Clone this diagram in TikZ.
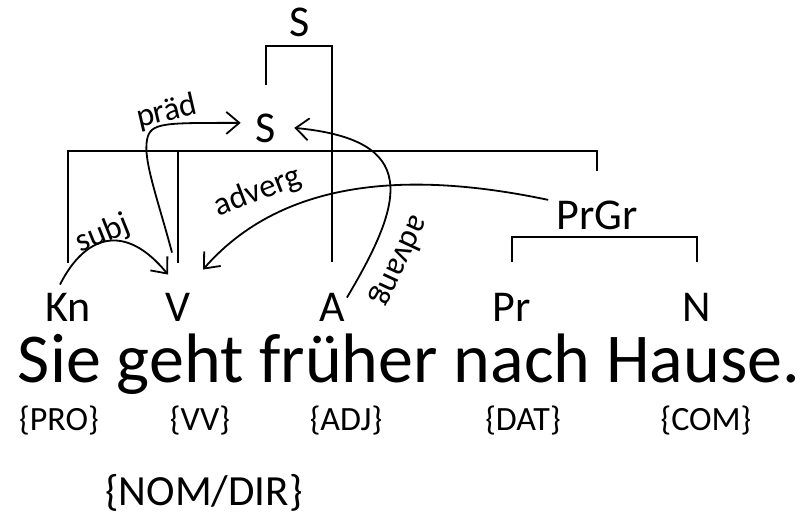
\documentclass[tikz,border=0pt]{standalone}
\usepackage{fontspec}
\setmainfont{Carlito}
\usetikzlibrary{arrows.meta,calc}
\begin{document}
\begin{tikzpicture}[x=1pt,y=-1pt,
  lab/.style={font=\fontsize{44}{50}\selectfont, inner sep=0pt, anchor=base},
  sent/.style={font=\fontsize{70}{76}\selectfont, inner sep=0pt, anchor=base},
  tag/.style={font=\fontsize{34}{38}\selectfont, inner sep=0pt, anchor=base},
  bigtag/.style={font=\fontsize{43}{50}\selectfont, inner sep=0pt, anchor=base},
  rel/.style={font=\fontsize{33}{36}\selectfont, inner sep=0pt},
  arc/.style={-{Straight Barb[length=13pt,width=22pt]}, line width=1.8pt},
  tree/.style={line width=2pt}]
\useasboundingbox (0,0) rectangle (803,518);
% category nodes
\node[lab] (Stop) at (300,37) {S};
\node[lab] (Smid) at (266,143) {S};
\node[lab] (PrGr) at (597,230) {PrGr};
\node[lab] (Kn) at (68,322) {Kn};
\node[lab] (V) at (178,322) {V};
\node[lab] (A) at (332,322) {A};
\node[lab] (Pr) at (512,322) {Pr};
\node[lab] (N) at (697,322) {N};
% sentence and tags
\node[sent] (sent) at (409,382) {Sie geht früher nach Hause.};
\node[tag] (tPRO) at (59,430) {\{PRO\}};
\node[tag] (tVV) at (200,430) {\{VV\}};
\node[tag] (tADJ) at (346,430) {\{ADJ\}};
\node[tag] (tDAT) at (523,430) {\{DAT\}};
\node[tag] (tCOM) at (706,430) {\{COM\}};
\node[bigtag] (tNOM) at (204,505) {\{NOM/DIR\}};
% tree brackets
\coordinate (bar) at ([yshift=-8pt]Smid.south);
\draw[tree] ([yshift=29pt]Smid.north) |- ([yshift=-9pt]Stop.south) -| ([yshift=32pt]A.north);
\draw[tree] ([yshift=31pt]Kn.north) |- (bar) -| ([yshift=30pt]PrGr.north);
\draw[tree] ([yshift=31pt]V.north) -- (V.north |- bar);
\draw[tree] ([yshift=32pt]Pr.north) |- ([yshift=-7pt]PrGr.south) -| ([yshift=32pt]N.north);
% relation labels
\node[rel, rotate=22] (lsubj) at (103,234) {subj};
\node[rel, rotate=13] (lpraed) at (167,112) {präd};
\node[rel, rotate=21] (ladverg) at (258,192) {adverg};
\node[rel, rotate=-115] (ladvang) at (400,261) {advang};
% dependency arcs
\draw[arc] ([shift={(-8pt,9pt)}]Kn.north) .. controls (85,235) and (125,222) .. ([shift={(-10pt,19pt)}]V.north);
\draw[arc] ([shift={(-6pt,41pt)}]V.north) .. controls (158,200) and (143,160) .. (147,140) .. controls (150,122) and (165,123) .. ([shift={(-15pt,6pt)}]Smid.west);
\draw[arc] ([shift={(2pt,-4pt)}]A.north east) .. controls (405,200) and (420,140) .. ([shift={(18pt,1pt)}]Smid.east);
\draw[arc] ([shift={(-8pt,16pt)}]PrGr.west) .. controls (430,175) and (290,170) .. ([shift={(25pt,24pt)}]V.north);
\end{tikzpicture}
\end{document}
